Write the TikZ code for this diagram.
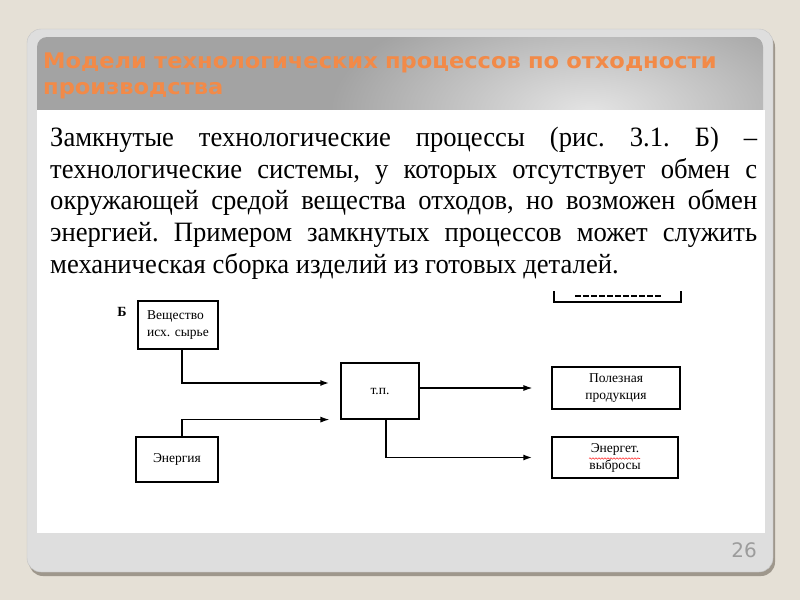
\documentclass[tikz,border=0pt]{standalone}
\usepackage{fontspec}
\usepackage{xcolor}
\usepackage{tikz}
\usetikzlibrary{calc}
\usetikzlibrary{positioning}
\usetikzlibrary{arrows.meta}
\usetikzlibrary{decorations.pathmorphing}
\setmainfont{Liberation Serif}
\newfontfamily\titlefont[FakeStretch=1.05]{DejaVu Sans}
\newfontfamily\bodyfont[FakeStretch=0.95]{Liberation Serif}
\newfontfamily\numfont{DejaVu Sans}
\definecolor{slidebg}{HTML}{E5E0D6}
\definecolor{frameshadow}{HTML}{9E978C}
\definecolor{framegray}{HTML}{DEDEDE}
\definecolor{frameedge}{HTML}{C4C4C4}
\definecolor{banddark}{HTML}{A3A3A3}
\definecolor{bandlight}{HTML}{E4E4E4}
\definecolor{titleorange}{HTML}{F28A48}
\definecolor{numgray}{HTML}{9C9C9C}

\begin{document}
\begin{tikzpicture}[x=1pt, y=-1pt,
  box/.style={draw, line width=1.2pt, inner sep=0pt, align=center, font=\fontsize{13.5}{17}\selectfont},
  arrow/.style={-{Latex[length=9pt, width=6pt]}}]
\useasboundingbox (0,0) rectangle (800,600);

% slide frame
\fill [slidebg] (0,0) rectangle (800,600);
\fill [frameshadow, rounded corners=14pt] (29,33) rectangle (775,576);
\filldraw [fill=framegray, draw=frameedge, rounded corners=14pt] (27,29) rectangle (773,572);
\begin{scope}
\clip [rounded corners=10pt] (37,37) rectangle (763,130);
\fill [banddark] (37,37) rectangle (763,130);
\shade [inner color=bandlight, outer color=banddark] (590,112) ellipse (260 and 120);
\end{scope}
\fill [white] (37,110) rectangle (765,533);

\node (title) [anchor=base west, text width=720pt, align=left, inner sep=0pt, text=titleorange,
  font=\titlefont\bfseries\fontsize{21.5}{26}\selectfont] at (43,68)
  {Модели технологических процессов по отходности\\производства};

\node (body text) [anchor=base west, text width=707pt, align=justify, inner sep=0pt,
  font=\bodyfont\frenchspacing\fontsize{28}{31.75}\selectfont] at (50,146.3)
  {Замкнутые технологические процессы (рис. 3.1. Б) –\linebreak
   технологические системы, у которых отсутствует обмен с\linebreak
   окружающей средой вещества отходов, но возможен обмен\linebreak
   энергией. Примером замкнутых процессов может служить\linebreak
   механическая сборка изделий из готовых деталей.};

% scheme B
\node (fig label) [font=\bfseries\fontsize{14}{14}\selectfont] at (122,312) {Б};
\node (raw material) [box, minimum width=80pt, minimum height=48pt, align=left] at (178,325) {Вещество\\исх. сырье};
\node (energy) [box, minimum width=82pt, minimum height=45pt] at (177,459.5) {Энергия};
\node (process) [box, minimum width=78pt, minimum height=56pt] at (380,391) {т.п.};
\node (product) [box, minimum width=128pt, minimum height=42pt] at (616,388) {Полезная\\продукция};
\node (emissions) [box, minimum width=126pt, minimum height=41pt] at (615,457.5) {Энергет.\\выбросы};

% box cut off by the text
\draw [line width=1.2pt] (554,291) |- (681,302) -- (681,291);
\draw [line width=2.5pt, dash pattern=on 6pt off 2pt] (575,296) -- (662,296);

\draw [line width=1.8pt, arrow] ([xshift=4pt]raw material.south) |- ([xshift=-11pt, yshift=8pt]process.west);
\draw [line width=1.2pt, arrow] ([xshift=5pt]energy.north) |- ([xshift=-11pt]process.south west);
\draw [line width=1.2pt, arrow] (process.east |- product.west) -- ([xshift=-19pt]product.west);
\draw [line width=1.8pt, arrow] ([xshift=6pt]process.south) |- ([xshift=-19pt]emissions.west);

\draw [red!80, line width=0.6pt, decorate, decoration={snake, amplitude=0.7pt, segment length=3pt}]
  ([xshift=-26pt, yshift=-1pt]emissions.center) -- ([xshift=25pt, yshift=-1pt]emissions.center);

\node (page number) [anchor=base east, inner sep=0pt, text=numgray, font=\numfont\fontsize{20}{20}\selectfont] at (757,557) {26};

\end{tikzpicture}
\end{document}
